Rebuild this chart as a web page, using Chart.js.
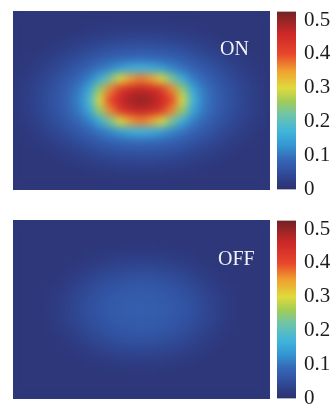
<!DOCTYPE html>
<html>
<head>
<meta charset="utf-8">
<script src="https://cdn.jsdelivr.net/npm/chart.js"></script>
<style>
  body { margin: 0; background: #fff; width: 334px; height: 405px; overflow: hidden; position: relative; }
  canvas { position: absolute; }
  .tag { position: absolute; font: 20px/20px "Liberation Serif", serif; color: #f2f2f6; white-space: nowrap; }
</style>
</head>
<body>
<canvas id="mapOn" width="257" height="179" style="left:13px;top:11px"></canvas>
<canvas id="barOn" width="57" height="219" style="left:277px;top:-9px"></canvas>
<div class="tag" style="left:220px;top:38px">ON</div>

<canvas id="mapOff" width="257" height="179" style="left:13px;top:220px"></canvas>
<canvas id="barOff" width="57" height="219" style="left:277px;top:200px"></canvas>
<div class="tag" style="left:218px;top:248px">OFF</div>

<script>
// colorbar range + tick labels
const colorbarRange = [0, 0.525]
const colorbarTicks = [0, 0.1, 0.2, 0.3, 0.4, 0.5]

const onGrid = [
  [.012,.012,.012,.012,.012,.012,.012,.012,.012,.012,.012,.012,.012,.012,.012,.012,.012,.012,.012,.012,.012,.012,.012,.012,.012],
  [.012,.012,.012,.012,.012,.012,.013,.015,.016,.018,.019,.02,.02,.02,.019,.018,.016,.015,.013,.012,.012,.012,.012,.012,.012],
  [.012,.012,.012,.012,.014,.017,.021,.024,.027,.03,.032,.034,.035,.034,.032,.03,.027,.024,.021,.017,.014,.012,.012,.012,.012],
  [.012,.012,.013,.017,.022,.027,.032,.038,.045,.05,.054,.056,.057,.056,.054,.05,.045,.038,.032,.027,.022,.017,.013,.012,.012],
  [.012,.015,.019,.025,.032,.039,.049,.059,.068,.077,.084,.088,.09,.088,.084,.077,.068,.059,.049,.039,.032,.025,.019,.015,.012],
  [.014,.019,.026,.033,.043,.055,.068,.083,.10,.117,.14,.16,.17,.16,.14,.117,.10,.083,.068,.055,.043,.033,.026,.019,.014],
  [.017,.023,.031,.042,.055,.07,.088,.113,.16,.23,.30,.35,.37,.35,.30,.23,.16,.113,.088,.07,.055,.042,.031,.023,.017],
  [.019,.026,.036,.048,.063,.082,.107,.155,.255,.365,.43,.46,.47,.46,.43,.365,.255,.155,.107,.082,.063,.048,.036,.026,.019],
  [.02,.027,.037,.05,.066,.086,.115,.18,.30,.405,.46,.49,.50,.49,.46,.405,.30,.18,.115,.086,.066,.05,.037,.027,.02],
  [.019,.026,.036,.048,.063,.082,.107,.155,.255,.365,.43,.46,.47,.46,.43,.365,.255,.155,.107,.082,.063,.048,.036,.026,.019],
  [.017,.023,.031,.042,.055,.07,.088,.113,.16,.23,.30,.35,.37,.35,.30,.23,.16,.113,.088,.07,.055,.042,.031,.023,.017],
  [.014,.019,.026,.033,.043,.055,.068,.083,.10,.117,.14,.16,.17,.16,.14,.117,.10,.083,.068,.055,.043,.033,.026,.019,.014],
  [.012,.015,.019,.025,.032,.039,.049,.059,.068,.077,.084,.088,.09,.088,.084,.077,.068,.059,.049,.039,.032,.025,.019,.015,.012],
  [.012,.012,.013,.017,.022,.027,.032,.038,.045,.05,.054,.056,.057,.056,.054,.05,.045,.038,.032,.027,.022,.017,.013,.012,.012],
  [.012,.012,.012,.012,.014,.017,.021,.024,.027,.03,.032,.034,.035,.034,.032,.03,.027,.024,.021,.017,.014,.012,.012,.012,.012],
  [.012,.012,.012,.012,.012,.012,.013,.015,.016,.018,.019,.02,.02,.02,.019,.018,.016,.015,.013,.012,.012,.012,.012,.012,.012],
  [.012,.012,.012,.012,.012,.012,.012,.012,.012,.012,.012,.012,.012,.012,.012,.012,.012,.012,.012,.012,.012,.012,.012,.012,.012]
]

// same for OFF
const offGrid = [
  [.012,.012,.012,.012,.012,.012,.012,.012,.012,.012,.012,.012,.012,.012,.012,.012,.012,.012,.012,.012,.012,.012,.012,.012,.012],
  [.012,.012,.012,.012,.012,.012,.012,.012,.012,.012,.012,.012,.012,.012,.012,.012,.012,.012,.012,.012,.012,.012,.012,.012,.012],
  [.012,.012,.012,.012,.012,.012,.012,.012,.013,.014,.014,.015,.015,.015,.014,.014,.013,.012,.012,.012,.012,.012,.012,.012,.012],
  [.012,.012,.012,.012,.012,.012,.014,.016,.019,.021,.024,.025,.025,.025,.024,.021,.019,.016,.014,.012,.012,.012,.012,.012,.012],
  [.012,.012,.012,.012,.013,.016,.02,.025,.029,.033,.036,.038,.039,.038,.036,.033,.029,.025,.02,.016,.013,.012,.012,.012,.012],
  [.012,.012,.012,.013,.016,.021,.027,.034,.042,.047,.052,.054,.055,.054,.052,.047,.042,.034,.027,.021,.016,.013,.012,.012,.012],
  [.012,.012,.012,.015,.02,.027,.035,.044,.052,.058,.063,.066,.067,.066,.063,.058,.052,.044,.035,.027,.02,.015,.012,.012,.012],
  [.012,.012,.013,.017,.024,.032,.041,.051,.058,.065,.07,.072,.073,.072,.07,.065,.058,.051,.041,.032,.024,.017,.013,.012,.012],
  [.012,.012,.014,.018,.025,.033,.043,.053,.061,.068,.072,.075,.075,.075,.072,.068,.061,.053,.043,.033,.025,.018,.014,.012,.012],
  [.012,.012,.013,.017,.024,.032,.041,.051,.058,.065,.07,.072,.073,.072,.07,.065,.058,.051,.041,.032,.024,.017,.013,.012,.012],
  [.012,.012,.012,.015,.02,.027,.035,.044,.052,.058,.063,.066,.067,.066,.063,.058,.052,.044,.035,.027,.02,.015,.012,.012,.012],
  [.012,.012,.012,.013,.016,.021,.027,.034,.042,.047,.052,.054,.055,.054,.052,.047,.042,.034,.027,.021,.016,.013,.012,.012,.012],
  [.012,.012,.012,.012,.013,.016,.02,.025,.029,.033,.036,.038,.039,.038,.036,.033,.029,.025,.02,.016,.013,.012,.012,.012,.012],
  [.012,.012,.012,.012,.012,.012,.014,.016,.019,.021,.024,.025,.025,.025,.024,.021,.019,.016,.014,.012,.012,.012,.012,.012,.012],
  [.012,.012,.012,.012,.012,.012,.012,.012,.013,.014,.014,.015,.015,.015,.014,.014,.013,.012,.012,.012,.012,.012,.012,.012,.012],
  [.012,.012,.012,.012,.012,.012,.012,.012,.012,.012,.012,.012,.012,.012,.012,.012,.012,.012,.012,.012,.012,.012,.012,.012,.012],
  [.012,.012,.012,.012,.012,.012,.012,.012,.012,.012,.012,.012,.012,.012,.012,.012,.012,.012,.012,.012,.012,.012,.012,.012,.012]
]

// washed out jet, sampled from the colorbar in the picture
const cmapStops = [
  [0.000, [44, 50, 112]],
  [0.020, [46, 58, 128]],
  [0.050, [48, 78, 156]],
  [0.090, [54, 104, 184]],
  [0.130, [52, 150, 210]],
  [0.170, [64, 180, 220]],
  [0.220, [110, 196, 170]],
  [0.260, [160, 204, 90]],
  [0.300, [224, 218, 60]],
  [0.350, [240, 160, 48]],
  [0.400, [232, 70, 44]],
  [0.460, [204, 40, 40]],
  [0.500, [150, 36, 36]],
  [0.525, [110, 36, 40]]
]

function cmap(v){
  if (v <= cmapStops[0][0]) return rgb(cmapStops[0][1])
  for (let i = 1; i < cmapStops.length; i++) {
    const [v1, c1] = cmapStops[i]
    if (v <= v1) {
      const [v0, c0] = cmapStops[i-1]
      const t = (v - v0) / (v1 - v0)
      return rgb(c0.map((c, k) => c + (c1[k] - c) * t))
    }
  }
  return rgb(cmapStops[cmapStops.length-1][1])
}
function rgb(c){ return `rgb(${c.map(Math.round).join(',')})` }

// smooth the cell grid like the picture (post-draw blur of the plot area)
const softMap = {
  id: 'softMap',
  afterDatasetsDraw(chart){
    const {ctx, canvas} = chart
    const off = document.createElement('canvas')
    off.width = canvas.width
    off.height = canvas.height
    off.getContext('2d').drawImage(canvas, 0, 0)
    ctx.save()
    ctx.fillStyle = cmap(0.012)
    ctx.fillRect(0, 0, canvas.width, canvas.height)
    ctx.filter = 'blur(4px)'
    ctx.drawImage(off, 0, 0)
    ctx.restore()
  }
}

function heatmap(id, grid){
  const rows = grid.length, cols = grid[0].length
  const el = document.getElementById(id)
  // cell size from the canvas (plot area fills it)
  const cell = Math.max(el.width / cols, el.height / rows)
  const pts = []
  grid.forEach((row, r) => row.forEach((v, c) => pts.push({x: c, y: r, v: v})))
  return new Chart(el, {
    type: 'scatter',
    data: { datasets: [{
      data: pts,
      pointStyle: 'rect',
      pointBorderWidth: 0,
      pointBackgroundColor: ctx => cmap(ctx.raw ? ctx.raw.v : 0),
      pointRadius: (cell + 1.2) / Math.SQRT2,
      pointHoverRadius: (cell + 1.2) / Math.SQRT2
    }]},
    options: {
      responsive: false,
      animation: false,
      events: [],
      layout: { padding: 0, autoPadding: false },
      plugins: { legend: {display: false}, tooltip: {enabled: false} },
      scales: {
        x: { type: 'linear', min: -0.5, max: cols - 0.5, display: false },
        y: { type: 'linear', min: -0.5, max: rows - 0.5, reverse: true, display: false }
      }
    },
    plugins: [softMap]
  })
}

function colorbar(id){
  return new Chart(document.getElementById(id), {
    type: 'bar',
    data: { labels: [''], datasets: [{
      data: [colorbarRange],
      borderWidth: 0,
      categoryPercentage: 1,
      barPercentage: 1,
      backgroundColor: ctx => {
        const a = ctx.chart.chartArea
        if (!a) return '#2c3270'
        const g = ctx.chart.ctx.createLinearGradient(0, a.bottom, 0, a.top)
        cmapStops.forEach(s => g.addColorStop(s[0] / colorbarRange[1], rgb(s[1])))
        return g
      }
    }]},
    options: {
      responsive: false,
      animation: false,
      events: [],
      layout: { padding: { top: 20, bottom: 20, left: 0, right: 0 } },
      plugins: { legend: {display: false}, tooltip: {enabled: false} },
      scales: {
        x: { display: false },
        y: {
          position: 'right',
          min: colorbarRange[0],
          max: colorbarRange[1],
          grid: { display: false, drawTicks: false },
          border: { display: false },
          afterBuildTicks: s => { s.ticks = colorbarTicks.map(v => ({value: v})) },
          afterFit: s => { s.width = 38 },
          ticks: {
            padding: 8,
            color: '#1c1c1c',
            font: { family: '"Liberation Serif", serif', size: 21 },
            callback: v => String(+Number(v).toFixed(1))
          }
        }
      }
    }
  })
}

heatmap('mapOn', onGrid)
heatmap('mapOff', offGrid)
colorbar('barOn')
colorbar('barOff')
</script>
</body>
</html>
